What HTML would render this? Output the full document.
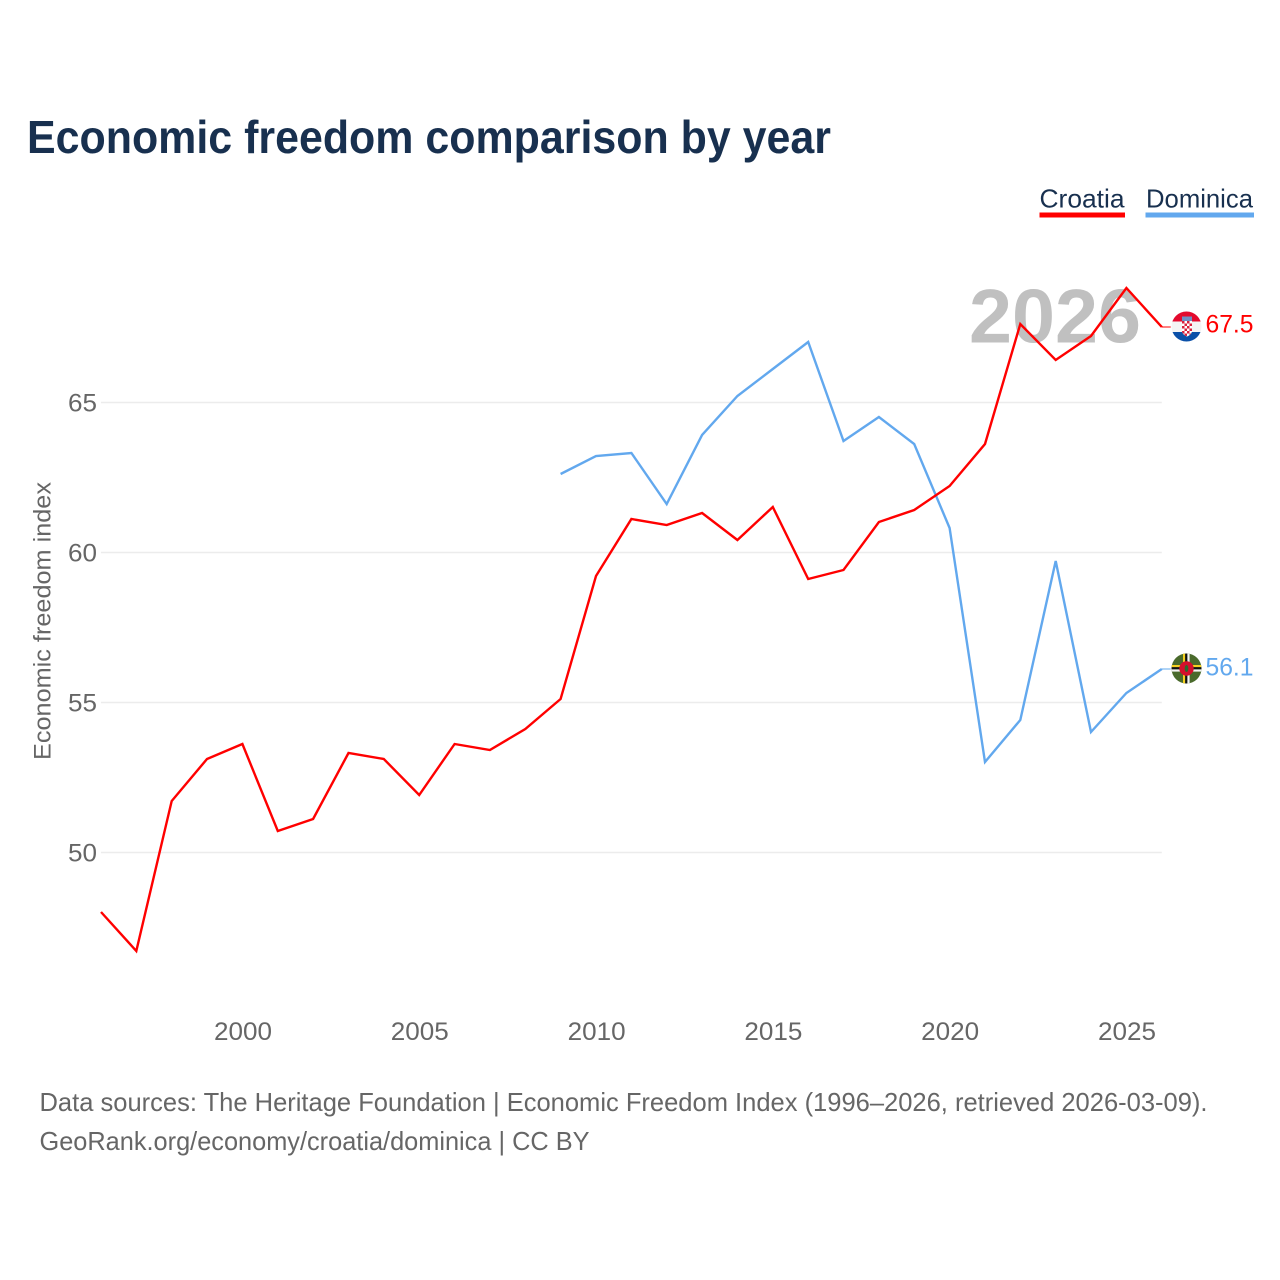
<!DOCTYPE html>
<html lang="en">
<head>
<meta charset="utf-8">
<title>Economic freedom comparison by year</title>
<style>
html,body{margin:0;padding:0;background:#fff;width:1280px;height:1280px;overflow:hidden}
svg{display:block}
text{font-family:"Liberation Sans",sans-serif}
</style>
</head>
<body>
<svg id="chart" xmlns="http://www.w3.org/2000/svg" width="1280" height="1280" viewBox="0 0 1280 1280">
  <defs>
    <clipPath id="flag-clip-hr"><circle cx="1186.5" cy="326.5" r="15"/></clipPath>
    <clipPath id="flag-clip-dm"><circle cx="1186.5" cy="668.5" r="15"/></clipPath>
    <clipPath id="shield-clip"><path d="M1182 321h10v10c0 2.500-2.500 4.500-5 5.500-2.500-1-5-3-5-5.500z"/></clipPath>
  </defs>
  <rect width="1280" height="1280" fill="#fff"/>
  <text x="27" y="153" font-size="46" font-weight="700" fill="#18304f" textLength="804" lengthAdjust="spacingAndGlyphs">Economic freedom comparison by year</text>

  <g>
    <g>
      <text x="1039.5" y="207.5" font-size="26" fill="#18304f" textLength="85" lengthAdjust="spacingAndGlyphs">Croatia</text>
      <rect x="1039.5" y="212.5" width="85.5" height="5" fill="#ff0000"/>
    </g>
    <g>
      <text x="1146" y="207.5" font-size="26" fill="#18304f" textLength="107" lengthAdjust="spacingAndGlyphs">Dominica</text>
      <rect x="1145.5" y="212.5" width="108.5" height="5" fill="#62a8ee"/>
    </g>
  </g>

  <g id="grid"></g>
  <g id="y-axis"></g>
  <g id="x-axis"></g>

  <text transform="translate(50.5,760) rotate(-90)" font-size="24" fill="#666" textLength="278" lengthAdjust="spacingAndGlyphs">Economic freedom index</text>

  <text x="969" y="342.5" font-size="76" font-weight="700" fill="#c0c0c0" textLength="172" lengthAdjust="spacingAndGlyphs">2026</text>

  <g id="series"></g>

  <g clip-path="url(#flag-clip-hr)">
    <rect x="1171" y="311" width="31" height="10.500" fill="#e30a2d"/>
    <rect x="1171" y="321.500" width="31" height="10.500" fill="#f4f4f4"/>
    <rect x="1171" y="332" width="31" height="11" fill="#0a50a8"/>
    <rect x="1182" y="316.500" width="10" height="4.500" fill="#6f8fc4"/>
    <g clip-path="url(#shield-clip)">
      <rect x="1182" y="321" width="10" height="16" fill="#fff"/>
      <path d="M1182 321h2.500v2.500h-2.500zM1187 321h2.500v2.500h-2.500zM1184.500 323.500h2.500v2.500h-2.500zM1189.500 323.500h2.500v2.500h-2.500zM1182 326h2.500v2.500h-2.500zM1187 326h2.500v2.500h-2.500zM1184.500 328.500h2.500v2.500h-2.500zM1189.500 328.500h2.500v2.500h-2.500zM1182 331h2.500v2.500h-2.500zM1187 331h2.500v2.500h-2.500zM1184.500 333.500h2.500v2.500h-2.500zM1189.500 333.500h2.500v2.500h-2.500z" fill="#d8203c"/>
    </g>
  </g>

  <g clip-path="url(#flag-clip-dm)">
    <rect x="1171" y="653" width="31" height="31" fill="#4a6a2c"/>
    <rect x="1171" y="665" width="31" height="2.200" fill="#f5d020"/>
    <rect x="1171" y="667.200" width="31" height="2.200" fill="#111"/>
    <rect x="1171" y="669.400" width="31" height="2.200" fill="#f4f4f4"/>
    <rect x="1183" y="653" width="2.200" height="31" fill="#f5d020"/>
    <rect x="1185.200" y="653" width="2.200" height="31" fill="#111"/>
    <rect x="1187.400" y="653" width="2.200" height="31" fill="#f4f4f4"/>
    <circle cx="1186.500" cy="668.500" r="7.200" fill="#d4102c"/>
    <ellipse cx="1186.500" cy="668.500" rx="1.800" ry="3.500" fill="#2d6a2c"/>
  </g>

  <text id="label-croatia" x="1205.500" y="332.500" font-size="25" fill="#ff0000" textLength="48" lengthAdjust="spacingAndGlyphs">67.5</text>
  <text id="label-dominica" x="1205.500" y="675.500" font-size="25" fill="#62a8ee" textLength="48" lengthAdjust="spacingAndGlyphs">56.1</text>

  <text x="39.500" y="1111" font-size="26" fill="#666" textLength="1168" lengthAdjust="spacingAndGlyphs">Data sources: The Heritage Foundation | Economic Freedom Index (1996–2026, retrieved 2026-03-09).</text>
  <a><text x="39.500" y="1150" font-size="26" fill="#666" textLength="550" lengthAdjust="spacingAndGlyphs">GeoRank.org/economy/croatia/dominica | CC BY</text></a>
</svg>
<script>
const years = [1996,1997,1998,1999,2000,2001,2002,2003,2004,2005,2006,2007,2008,2009,2010,2011,2012,2013,2014,2015,2016,2017,2018,2019,2020,2021,2022,2023,2024,2025,2026];
const croatiaValues = [48.0,46.7,51.7,53.1,53.6,50.7,51.1,53.3,53.1,51.9,53.6,53.4,54.1,55.1,59.2,61.1,60.9,61.3,60.4,61.5,59.1,59.4,61.0,61.4,62.2,63.6,67.6,66.4,67.2,68.8,67.5];
const dominicaValues = [null,null,null,null,null,null,null,null,null,null,null,null,null,62.6,63.2,63.3,61.6,63.9,65.2,66.1,67.0,63.7,64.5,63.6,60.8,53.0,54.4,59.7,54.0,55.3,56.1];
const xTickLabels = [2000,2005,2010,2015,2020,2025];
const yTickLabels = [50,55,60,65];

const SVG_NS = 'http://www.w3.org/2000/svg';
function xScale(year){ return 242.4 + (year - 2000) * 35.36; }
function yScale(value){ return 552 - (value - 60) * 30; }
const plotLeft = xScale(1996);
const plotRight = xScale(2026);

const gridGroup = document.getElementById('grid');
const yAxisGroup = document.getElementById('y-axis');
const xAxisGroup = document.getElementById('x-axis');
const seriesGroup = document.getElementById('series');

yTickLabels.forEach(function(tick){
  const gridLine = document.createElementNS(SVG_NS, 'line');
  
  
  gridLine.setAttribute('x1', plotLeft);
  gridLine.setAttribute('x2', plotRight);
  gridLine.setAttribute('y1', yScale(tick) + 0.5);
  gridLine.setAttribute('y2', yScale(tick) + 0.5);
  gridLine.setAttribute('stroke', '#ececec');
  gridLine.setAttribute('stroke-width', '1.5');
  gridGroup.appendChild(gridLine);

  const label = document.createElementNS(SVG_NS, 'text');
  
  
  label.setAttribute('x', 68);
  label.setAttribute('y', yScale(tick) + 9.5);
  label.setAttribute('font-size', '25');
  label.setAttribute('fill', '#666');
  label.setAttribute('textLength', '29');
  label.setAttribute('lengthAdjust', 'spacingAndGlyphs');
  label.textContent = tick;
  yAxisGroup.appendChild(label);
});

xTickLabels.forEach(function(tick){
  const label = document.createElementNS(SVG_NS, 'text');
  
  
  label.setAttribute('x', xScale(tick) - 28.4);
  label.setAttribute('y', 1040);
  label.setAttribute('font-size', '25');
  label.setAttribute('fill', '#666');
  label.setAttribute('textLength', '58');
  label.setAttribute('lengthAdjust', 'spacingAndGlyphs');
  label.textContent = tick;
  xAxisGroup.appendChild(label);
});

function linePoints(values){
  const points = [];
  values.forEach(function(value, i){
    if (value !== null) points.push(xScale(years[i]).toFixed(1) + ',' + yScale(value).toFixed(1));
  });
  return points.join(' ');
}

const dominicaLine = document.createElementNS(SVG_NS, 'polyline');


dominicaLine.setAttribute('points', linePoints(dominicaValues));
dominicaLine.setAttribute('fill', 'none');
dominicaLine.setAttribute('stroke', '#62a8ee');
dominicaLine.setAttribute('stroke-width', '2.4');
seriesGroup.appendChild(dominicaLine);

const croatiaLine = document.createElementNS(SVG_NS, 'polyline');


croatiaLine.setAttribute('points', linePoints(croatiaValues));
croatiaLine.setAttribute('fill', 'none');
croatiaLine.setAttribute('stroke', '#ff0000');
croatiaLine.setAttribute('stroke-width', '2.4');
seriesGroup.appendChild(croatiaLine);

const croatiaConnector = document.createElementNS(SVG_NS, 'line');


croatiaConnector.setAttribute('x1', plotRight);
croatiaConnector.setAttribute('x2', plotRight + 9);
croatiaConnector.setAttribute('y1', yScale(croatiaValues[croatiaValues.length - 1]));
croatiaConnector.setAttribute('y2', yScale(croatiaValues[croatiaValues.length - 1]));
croatiaConnector.setAttribute('stroke', '#ff0000');
croatiaConnector.setAttribute('stroke-width', '1');
seriesGroup.appendChild(croatiaConnector);

const dominicaConnector = document.createElementNS(SVG_NS, 'line');


dominicaConnector.setAttribute('x1', plotRight);
dominicaConnector.setAttribute('x2', plotRight + 9);
dominicaConnector.setAttribute('y1', yScale(dominicaValues[dominicaValues.length - 1]));
dominicaConnector.setAttribute('y2', yScale(dominicaValues[dominicaValues.length - 1]));
dominicaConnector.setAttribute('stroke', '#62a8ee');
dominicaConnector.setAttribute('stroke-width', '1');
seriesGroup.appendChild(dominicaConnector);

document.getElementById('label-croatia').textContent = croatiaValues[croatiaValues.length - 1].toFixed(1);
document.getElementById('label-dominica').textContent = dominicaValues[dominicaValues.length - 1].toFixed(1);
</script>
</body>
</html>
